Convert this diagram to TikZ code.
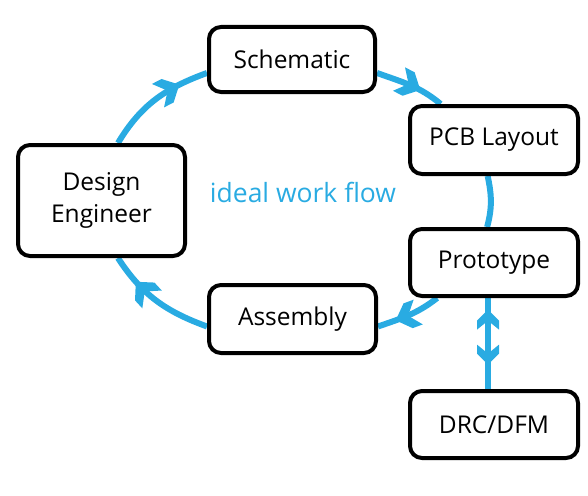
\documentclass[tikz,border=0pt]{standalone}
\usepackage{fontspec}
\setmainfont{Open Sans}
\usetikzlibrary{decorations.markings,backgrounds}
\definecolor{flowblue}{RGB}{41,171,226}

\begin{document}
\begin{tikzpicture}[x=1pt, y=1pt,
		box/.style={draw, line width=4pt, rounded corners=12pt, fill=white,
			minimum width=168pt, minimum height=67pt, inner sep=2pt,
			font=\fontsize{24.5}{32}\selectfont, align=center},
		flow/.style={draw=flowblue, line width=6pt},
		freccia/.style={postaction={decorate}, decoration={markings,
			mark=at position #1 with {\punta{1.2}}}}]
	% punta a freccia con alette
	\def\punta#1{\fill[flowblue, scale=#1] (2pt,0pt) -- (-9pt,11pt) -- (-18pt,11pt) -- (-9pt,0pt) -- (-18pt,-11pt) -- (-9pt,-11pt) -- cycle;}
	\def\puntainv{\fill[flowblue] (-2pt,0pt) -- (9pt,11pt) -- (18pt,11pt) -- (9pt,0pt) -- (18pt,-11pt) -- (9pt,-11pt) -- cycle;}
	\useasboundingbox (0,0) rectangle (588,-495);
	
	% blocchi del ciclo
	\node[box, minimum width=166pt, minimum height=65pt] (sch) at (292,-59.5) {Schematic};
	\node[box, minimum height=68pt] (pcb) at (494,-140) {PCB Layout};
	\node[box] (proto) at (494,-262.5) {Prototype};
	\node[box, minimum width=167pt, minimum height=68pt] (asm) at (292.5,-319) {Assembly};
	\node[box, minimum width=167pt, minimum height=111pt] (de) at (101.5,-200.5) {Design\\Engineer};
	\node[box] (drc) at (494,-424.5) {DRC/DFM};
	\node[text=flowblue, font=\fontsize{26.5}{32}\selectfont] (lbl) at (303,-192) {ideal work flow};
	
	\begin{scope}[on background layer]
		\draw[flow, freccia=0.72] (de.74) to[out=59, in=200] (sch.189);
		\draw[flow, freccia=0.62] (sch.351) to[out=-20, in=140] (pcb.146);
		\draw[flow] (pcb.260) to[out=-78, in=75] (proto.101);
		\draw[flow, freccia=0.68] (proto.212) to[out=218, in=19] (asm.355);
		\draw[flow, freccia=0.72] (asm.185) to[out=160, in=-57] (de.286);
		% verifica DRC/DFM
		\draw[flow, postaction={decorate}, decoration={markings,
			mark=at position 0.15 with {\puntainv},
			mark=at position 0.71 with {\punta{1}}}]
			([xshift=-6pt]proto.south) -- ([xshift=-6pt]drc.north);
	\end{scope}
\end{tikzpicture}
\end{document}
